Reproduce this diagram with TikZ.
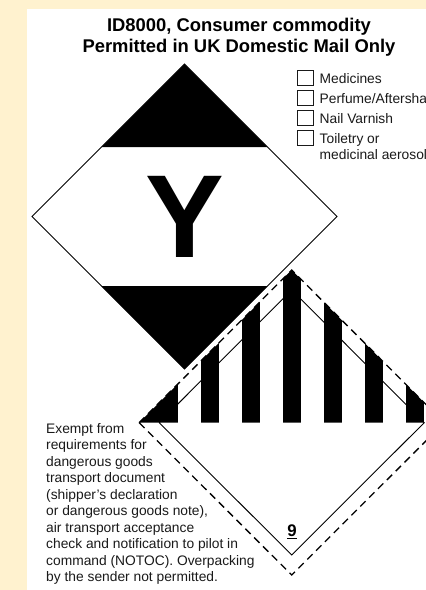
\documentclass[tikz,border=0pt]{standalone}
\usepackage{fontspec}
\setmainfont{Liberation Sans}
\usetikzlibrary{calc}
\definecolor{cream}{HTML}{FFF2CF}
\definecolor{ink}{HTML}{1A1A1A}
\tikzset{
  x=1pt,y=-1pt,
  edge/.style={draw=black,line width=0.9pt},
  dashedge/.style={draw=black,line width=1.3pt,dash pattern=on 7.5pt off 5pt},
  tick/.style={draw=ink,line width=0.7pt},
  titletext/.style={font=\fontsize{18.4}{20}\selectfont\bfseries,anchor=base,inner sep=0pt,text=black},
  labeltext/.style={font=\fontsize{13.8}{16}\selectfont,anchor=base west,inner sep=0pt,text=ink},
  bodytext/.style={font=\fontsize{13.8}{16.5}\selectfont,anchor=north west,align=left,inner sep=0pt,text=ink},
}
\begin{document}
\begin{tikzpicture}
\useasboundingbox (0,0) rectangle (426,590);
\clip (0,0) rectangle (426,590);
\fill[cream] (0,0) rectangle (426,590);
\fill[white] (26.5,9) rectangle (426,590);

% Title
\node[titletext] (t1) at (239,31) {ID8000, Consumer commodity};
\node[titletext] (t2) at (239,52) {Permitted in UK Domestic Mail Only};

% Upper diamond
\coordinate (aT) at (184.5,64);
\coordinate (aL) at (32,216.5);
\coordinate (aB) at (184.5,369);
\coordinate (aR) at (337,216.5);
\draw[edge] (aT) -- (aR) -- (aB) -- (aL) -- cycle;
\fill[black] (aT) -- (267.5,147) -- (101.5,147) -- cycle;
\fill[black] (aB) -- (101.5,286) -- (267.5,286) -- cycle;
\node[font=\fontsize{118}{118}\selectfont\bfseries,anchor=base,inner sep=0pt] (y) at (184.7,257) {Y};

% Tick boxes
\foreach \n/\yy in {a/70,b/90,c/110,d/130}
  \draw[tick] (297.7,\yy) rectangle (313.3,\yy+15);
\node[labeltext] (l1) at (319.5,83) {Medicines};
\node[labeltext] (l2) at (319.5,103) {Perfume/Aftersha};
\node[labeltext] (l3) at (319.5,123) {Nail Varnish};
\node[labeltext] (l4) at (319.5,143) {Toiletry or};
\node[labeltext] (l5) at (319.5,159) {medicinal aerosol};

% Lower diamond: stripes clipped to its outline
\coordinate (bT) at (291.7,270);
\coordinate (bL) at (139.2,422.7);
\coordinate (bB) at (291.7,575);
\coordinate (bR) at (444.2,422.7);
\coordinate (cT) at (291.7,290);
\coordinate (cL) at (159.2,422.7);
\coordinate (cB) at (291.7,555);
\coordinate (cR) at (424.2,422.7);
\draw[edge] (cT) -- (cR) -- (cB) -- (cL) -- cycle;
\draw[dashedge] (bL) -- (bB) -- (bR);
\draw[dashedge] (bL) -- (bT) -- (bR);
\begin{scope}
  \clip (bT) -- (bR) -- (bL) -- cycle;
  \foreach \xa/\xb in {130/177.6,200.8/218.8,242/259.8,283/300.8,324.2/342,365.4/383,406.2/424.2}
    \fill[black] (\xa,260) rectangle (\xb,422.7);
\end{scope}
\node[font=\fontsize{16.8}{20}\selectfont\bfseries,anchor=base,inner sep=0pt] (nine) at (292,536.7) {\underline{9}};

% Side note
\node[bodytext] (note) at (46,423) {Exempt from\\requirements for\\dangerous goods\\transport document\\(shipper’s declaration\\or dangerous goods note),\\air transport acceptance\\check and notification to pilot in\\command (NOTOC). Overpacking\\by the sender not permitted.};
\end{tikzpicture}
\end{document}
